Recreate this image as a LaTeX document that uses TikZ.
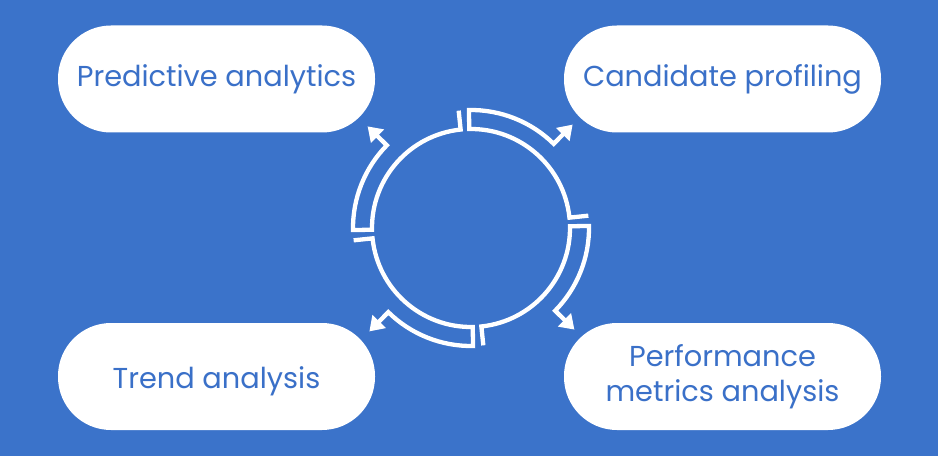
\documentclass[tikz,border=0pt]{standalone}
\usepackage{fontspec}
\setmainfont{Poppins}
\usetikzlibrary{arrows.meta}
\definecolor{bgblue}{RGB}{59,115,202}
\definecolor{txtblue}{RGB}{58,112,200}
\begin{document}
\begin{tikzpicture}[x=1pt,y=1pt,
  pill/.style={rounded corners=53pt, fill=white, minimum width=317pt, minimum height=107pt,
    inner sep=0pt, text=txtblue, font=\fontsize{28.8}{35}\selectfont, align=center},
  ring/.style={draw=white, line width=4.3pt, line join=miter},
  ]
\fill[bgblue] (0,0) rectangle (938,456);
\useasboundingbox (0,0) rectangle (938,456);
\node[pill] (pa) at (216.5,377) {Predictive analytics};
\node[pill] (cp) at (722.5,377) {Candidate profiling};
\node[pill] (ta) at (216.5,79.5) {\rule{0pt}{31pt}Trend analysis};
\node[pill] (pm) at (722.5,79.5) {Performance\\metrics analysis};
\begin{scope}[shift={(471,228)}]
\coordinate (ctr) at (0,0);
\foreach \angC [evaluate=\angC as \angS using \angC+1,
                evaluate=\angC as \angE using \angC-84,
                evaluate=\angC as \angH using \angC-44.5] in {90,0,-90,-180}{
  \draw[ring,-{Triangle[length=14pt,width=18pt]}]
    (\angE:118) -- (\angE:99) arc[start angle=\angE, end angle=\angS, radius=99]
    -- (\angS:118) arc[start angle=\angS, end angle=\angH, radius=118] -- (\angH:145);
}
\end{scope}
\end{tikzpicture}
\end{document}
